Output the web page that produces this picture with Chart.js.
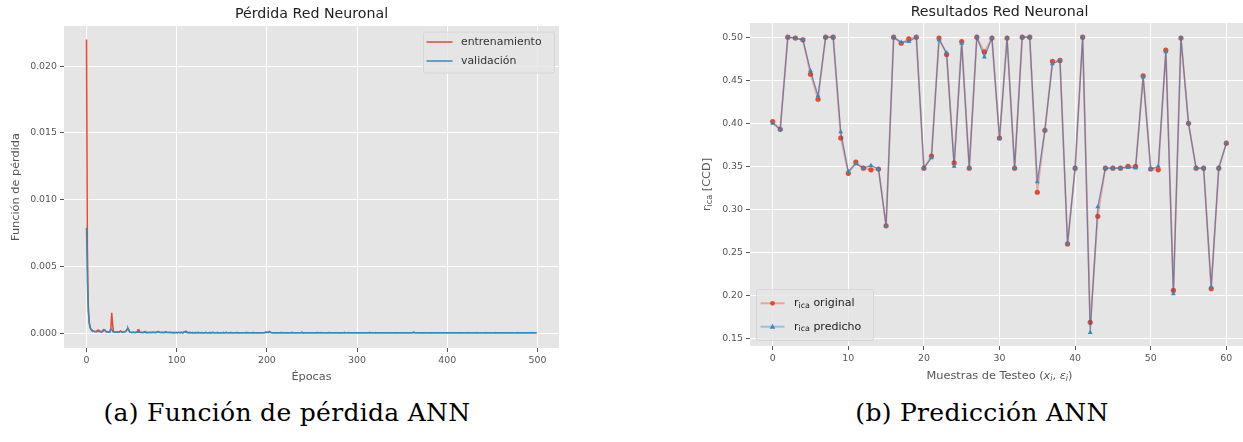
<!DOCTYPE html>
<html>
<head>
<meta charset="utf-8">
<script src="https://cdn.jsdelivr.net/npm/chart.js"></script>
<style>
  body { margin: 0; background: #fff; width: 1243px; height: 442px; overflow: hidden; position: relative; }
  #lossBox { position: absolute; left: 0; top: 0; }
  #predBox { position: absolute; left: 690px; top: 0; }
  .cap { position: absolute; top: 399px; font-family: "DejaVu Serif", serif; font-size: 25px; color: #000;
         letter-spacing: 0.3px; white-space: nowrap; transform: translateX(-50%); line-height: 28px; }
</style>
</head>
<body>
<div id="lossBox"><canvas id="lossChart" width="580" height="395"></canvas></div>
<div id="predBox"><canvas id="predChart" width="570" height="395"></canvas></div>
<div class="cap" style="left:287px">(a) Función de pérdida ANN</div>
<div class="cap" style="left:982px">(b) Predicción ANN</div>

<script>
// loss per epoch (500 epochs)
var lossTrain = [
  0.0220, 0.0062, 0.0021, 0.00085, 0.00045, 0.00028, 0.00020, 0.00016, 0.00014, 0.00012,
  0.00011, 0.00013, 0.00020, 0.00022, 0.00019, 0.00014, 0.00010, 0.00009, 0.00012, 0.00017,
  0.00022, 0.00018, 0.00011, 0.00008, 0.00007, 0.00009, 0.00012, 0.00035, 0.00152, 0.00060,
  0.00012, 0.00007, 0.00006, 0.00008, 0.00010, 0.00007, 0.00009, 0.00013, 0.00016, 0.00011,
  0.00008, 0.00006, 0.00009, 0.00012, 0.00018, 0.00026, 0.00030, 0.00022, 0.00009, 0.00006,
  0.00005, 0.00006, 0.00008, 0.00005, 0.00004, 0.00006, 0.00010, 0.00024, 0.00026, 0.00009,
  0.00005, 0.00004, 0.00006, 0.00005, 0.00009, 0.00013, 0.00006, 0.00004, 0.00005, 0.00004,
  0.00006, 0.00005, 0.00004, 0.00005, 0.00007, 0.00005, 0.00004, 0.00006, 0.00009, 0.00011,
  0.00012, 0.00007, 0.00005, 0.00004, 0.00006, 0.00005, 0.00004, 0.00008, 0.00010, 0.00005,
  0.00004, 0.00005, 0.00004, 0.00006, 0.00004, 0.00003, 0.00005, 0.00004, 0.00003, 0.00004,
  4e-5, 3e-5, 5e-5, 4e-5, 3e-5, 6e-5, 4e-5, 3e-5, 8e-5, 9e-5, 7e-5, 4e-5, 3e-5, 4e-5, 3e-5, 5e-5, 3e-5, 3e-5, 4e-5, 3e-5, 2e-5, 4e-5, 3e-5, 3e-5, 5e-5,
  3e-5, 2e-5, 3e-5, 4e-5, 3e-5, 2e-5, 3e-5, 5e-5, 3e-5, 2e-5, 3e-5, 3e-5, 4e-5, 2e-5, 3e-5, 6e-5, 3e-5, 2e-5, 3e-5, 2e-5, 4e-5, 3e-5, 2e-5, 3e-5, 3e-5,
  2e-5, 3e-5, 4e-5, 2e-5, 3e-5, 5e-5, 3e-5, 2e-5, 2e-5, 3e-5, 4e-5, 2e-5, 3e-5, 2e-5, 2e-5, 3e-5, 2e-5, 4e-5, 3e-5, 2e-5, 2e-5, 3e-5, 2e-5, 2e-5, 3e-5,
  2e-5, 2e-5, 4e-5, 2e-5, 3e-5, 2e-5, 2e-5, 3e-5, 2e-5, 2e-5, 4e-5, 2e-5, 2e-5, 3e-5, 2e-5, 2e-5, 2e-5, 3e-5, 2e-5, 3e-5, 2e-5, 2e-5, 3e-5, 5e-5, 7e-5,
  6e-5, 5e-5, 4e-5, 9e-5, 5e-5, 3e-5, 2e-5, 2e-5, 3e-5, 2e-5, 2e-5, 2e-5, 3e-5, 2e-5, 2e-5, 2e-5, 4e-5, 2e-5, 2e-5, 2e-5, 3e-5, 2e-5, 2e-5, 2e-5, 3e-5,
  2e-5, 2e-5, 2e-5, 4e-5, 2e-5, 2e-5, 3e-5, 2e-5, 2e-5, 2e-5, 2e-5, 3e-5, 2e-5, 2e-5, 5e-5, 2e-5, 2e-5, 2e-5, 3e-5, 2e-5, 2e-5, 2e-5, 2e-5, 3e-5, 2e-5,
  2e-5, 3e-5, 2e-5, 2e-5, 2e-5, 2e-5, 4e-5, 2e-5, 2e-5, 2e-5, 3e-5, 2e-5, 2e-5, 2e-5, 2e-5, 2e-5, 3e-5, 2e-5, 2e-5, 4e-5, 2e-5, 2e-5, 2e-5, 2e-5, 2e-5,
  3e-5, 2e-5, 2e-5, 2e-5, 2e-5, 3e-5, 2e-5, 2e-5, 2e-5, 2e-5, 2e-5, 4e-5, 2e-5, 2e-5, 2e-5, 2e-5, 3e-5, 2e-5, 2e-5, 2e-5, 2e-5, 2e-5, 3e-5, 2e-5, 2e-5,
  2e-5, 2e-5, 2e-5, 3e-5, 2e-5, 2e-5, 2e-5, 2e-5, 2e-5, 3e-5, 2e-5, 2e-5, 2e-5, 2e-5, 4e-5, 2e-5, 2e-5, 2e-5, 2e-5, 2e-5, 2e-5, 3e-5, 2e-5, 2e-5, 2e-5,
  2e-5, 2e-5, 3e-5, 2e-5, 2e-5, 2e-5, 2e-5, 2e-5, 2e-5, 3e-5, 2e-5, 2e-5, 2e-5, 2e-5, 2e-5, 2e-5, 3e-5, 2e-5, 2e-5, 2e-5, 2e-5, 2e-5, 2e-5, 2e-5, 3e-5,
  2e-5, 2e-5, 2e-5, 2e-5, 2e-5, 3e-5, 2e-5, 2e-5, 2e-5, 2e-5, 2e-5, 2e-5, 2e-5, 8e-5, 3e-5, 2e-5, 2e-5, 2e-5, 2e-5, 2e-5, 2e-5, 3e-5, 2e-5, 2e-5, 2e-5,
  2e-5, 2e-5, 2e-5, 2e-5, 2e-5, 2e-5, 3e-5, 2e-5, 2e-5, 2e-5, 2e-5, 2e-5, 2e-5, 2e-5, 2e-5, 3e-5, 2e-5, 2e-5, 2e-5, 2e-5, 2e-5, 2e-5, 2e-5, 2e-5, 2e-5,
  2e-5, 3e-5, 2e-5, 2e-5, 2e-5, 2e-5, 2e-5, 2e-5, 2e-5, 2e-5, 2e-5, 2e-5, 3e-5, 2e-5, 2e-5, 2e-5, 2e-5, 2e-5, 2e-5, 2e-5, 2e-5, 2e-5, 2e-5, 3e-5, 2e-5,
  2e-5, 2e-5, 2e-5, 2e-5, 2e-5, 2e-5, 2e-5, 2e-5, 3e-5, 2e-5, 2e-5, 2e-5, 2e-5, 2e-5, 2e-5, 2e-5, 2e-5, 2e-5, 3e-5, 2e-5, 2e-5, 2e-5, 2e-5, 2e-5, 2e-5,
  2e-5, 2e-5, 2e-5, 2e-5, 3e-5, 2e-5, 2e-5, 2e-5, 2e-5, 2e-5, 2e-5, 2e-5, 2e-5, 2e-5, 2e-5, 3e-5, 2e-5, 2e-5, 2e-5, 2e-5, 2e-5, 2e-5, 2e-5, 2e-5, 2e-5,
  2e-5, 2e-5, 3e-5, 2e-5, 2e-5, 2e-5, 2e-5, 2e-5, 2e-5, 2e-5, 2e-5, 3e-5, 2e-5, 2e-5, 2e-5, 2e-5, 2e-5, 2e-5, 2e-5, 3e-5, 2e-5, 2e-5, 2e-5, 2e-5, 2e-5
];
var lossVal = [
  0.0079, 0.0038, 0.0016, 0.00075, 0.00040, 0.00026, 0.00019, 0.00015, 0.00013, 0.00011,
  0.00010, 0.00010, 0.00011, 0.00013, 0.00012, 0.00010, 0.00009, 0.00012, 0.00020, 0.00026,
  0.00024, 0.00015, 0.00009, 0.00008, 0.00007, 0.00008, 0.00015, 0.00028, 0.00030, 0.00012,
  0.00007, 0.00006, 0.00006, 0.00007, 0.00008, 0.00007, 0.00008, 0.00010, 0.00012, 0.00009,
  0.00007, 0.00006, 0.00008, 0.00010, 0.00016, 0.00028, 0.00036, 0.00020, 0.00008, 0.00006,
  0.00005, 0.00005, 0.00006, 0.00005, 0.00004, 0.00005, 0.00007, 0.00009, 0.00008, 0.00005,
  0.00004, 0.00004, 0.00005, 0.00004, 0.00006, 0.00007, 0.00005, 0.00004, 0.00004, 0.00004,
  0.00005, 0.00004, 0.00004, 0.00005, 0.00006, 0.00004, 0.00004, 0.00005, 0.00007, 0.00008,
  0.00007, 0.00005, 0.00004, 0.00004, 0.00005, 0.00004, 0.00004, 0.00006, 0.00007, 0.00005,
  0.00004, 0.00004, 0.00004, 0.00005, 0.00004, 0.00003, 0.00004, 0.00004, 0.00003, 0.00004,
  4e-5, 3e-5, 4e-5, 4e-5, 3e-5, 5e-5, 4e-5, 3e-5, 6e-5, 9e-5, 14e-5, 10e-5, 5e-5, 4e-5, 3e-5, 4e-5, 3e-5, 3e-5, 4e-5, 3e-5, 3e-5, 4e-5, 3e-5, 3e-5, 4e-5,
  3e-5, 3e-5, 3e-5, 4e-5, 3e-5, 3e-5, 3e-5, 4e-5, 3e-5, 3e-5, 3e-5, 3e-5, 4e-5, 3e-5, 3e-5, 5e-5, 3e-5, 3e-5, 3e-5, 3e-5, 4e-5, 3e-5, 3e-5, 3e-5, 3e-5,
  3e-5, 3e-5, 4e-5, 3e-5, 3e-5, 4e-5, 3e-5, 3e-5, 3e-5, 3e-5, 4e-5, 3e-5, 3e-5, 3e-5, 3e-5, 3e-5, 3e-5, 4e-5, 3e-5, 3e-5, 3e-5, 3e-5, 3e-5, 3e-5, 3e-5,
  3e-5, 3e-5, 4e-5, 3e-5, 3e-5, 3e-5, 3e-5, 3e-5, 3e-5, 3e-5, 4e-5, 3e-5, 3e-5, 3e-5, 3e-5, 3e-5, 3e-5, 3e-5, 3e-5, 3e-5, 3e-5, 3e-5, 3e-5, 4e-5, 5e-5,
  6e-5, 7e-5, 9e-5, 12e-5, 6e-5, 4e-5, 3e-5, 3e-5, 3e-5, 3e-5, 3e-5, 3e-5, 3e-5, 3e-5, 3e-5, 3e-5, 4e-5, 3e-5, 3e-5, 3e-5, 3e-5, 3e-5, 3e-5, 3e-5, 3e-5,
  3e-5, 3e-5, 3e-5, 4e-5, 3e-5, 3e-5, 3e-5, 3e-5, 3e-5, 3e-5, 3e-5, 3e-5, 3e-5, 3e-5, 5e-5, 3e-5, 3e-5, 3e-5, 3e-5, 3e-5, 3e-5, 3e-5, 3e-5, 3e-5, 3e-5,
  3e-5, 3e-5, 3e-5, 3e-5, 3e-5, 3e-5, 4e-5, 3e-5, 3e-5, 3e-5, 3e-5, 3e-5, 3e-5, 3e-5, 3e-5, 3e-5, 3e-5, 3e-5, 3e-5, 4e-5, 3e-5, 3e-5, 3e-5, 3e-5, 3e-5,
  3e-5, 3e-5, 3e-5, 3e-5, 3e-5, 3e-5, 3e-5, 3e-5, 3e-5, 3e-5, 3e-5, 4e-5, 3e-5, 3e-5, 3e-5, 3e-5, 3e-5, 3e-5, 3e-5, 3e-5, 3e-5, 3e-5, 3e-5, 3e-5, 3e-5,
  3e-5, 3e-5, 3e-5, 3e-5, 3e-5, 3e-5, 3e-5, 3e-5, 3e-5, 3e-5, 3e-5, 3e-5, 3e-5, 3e-5, 4e-5, 3e-5, 3e-5, 3e-5, 3e-5, 3e-5, 3e-5, 3e-5, 3e-5, 3e-5, 3e-5,
  3e-5, 3e-5, 3e-5, 3e-5, 3e-5, 3e-5, 3e-5, 3e-5, 3e-5, 3e-5, 3e-5, 3e-5, 3e-5, 3e-5, 3e-5, 3e-5, 3e-5, 3e-5, 3e-5, 3e-5, 3e-5, 3e-5, 3e-5, 3e-5, 3e-5,
  3e-5, 3e-5, 3e-5, 3e-5, 3e-5, 3e-5, 3e-5, 3e-5, 3e-5, 3e-5, 3e-5, 3e-5, 3e-5, 4e-5, 3e-5, 3e-5, 3e-5, 3e-5, 3e-5, 3e-5, 3e-5, 3e-5, 3e-5, 3e-5, 3e-5,
  3e-5, 3e-5, 3e-5, 3e-5, 3e-5, 3e-5, 3e-5, 3e-5, 3e-5, 3e-5, 3e-5, 3e-5, 3e-5, 3e-5, 3e-5, 3e-5, 3e-5, 3e-5, 3e-5, 3e-5, 3e-5, 3e-5, 3e-5, 3e-5, 3e-5,
  3e-5, 3e-5, 3e-5, 3e-5, 3e-5, 3e-5, 3e-5, 3e-5, 3e-5, 3e-5, 3e-5, 3e-5, 3e-5, 3e-5, 3e-5, 3e-5, 3e-5, 3e-5, 3e-5, 3e-5, 3e-5, 3e-5, 3e-5, 3e-5, 3e-5,
  3e-5, 3e-5, 3e-5, 3e-5, 3e-5, 3e-5, 3e-5, 3e-5, 3e-5, 3e-5, 3e-5, 3e-5, 3e-5, 3e-5, 3e-5, 3e-5, 3e-5, 3e-5, 3e-5, 3e-5, 3e-5, 3e-5, 3e-5, 3e-5, 3e-5,
  3e-5, 3e-5, 3e-5, 3e-5, 3e-5, 3e-5, 3e-5, 3e-5, 3e-5, 3e-5, 3e-5, 3e-5, 3e-5, 3e-5, 3e-5, 3e-5, 3e-5, 3e-5, 3e-5, 3e-5, 3e-5, 3e-5, 3e-5, 3e-5, 3e-5,
  3e-5, 3e-5, 3e-5, 4e-5, 3e-5, 3e-5, 3e-5, 3e-5, 3e-5, 3e-5, 3e-5, 3e-5, 3e-5, 3e-5, 3e-5, 3e-5, 3e-5, 3e-5, 3e-5, 3e-5, 3e-5, 3e-5, 3e-5, 3e-5, 3e-5
];
var lossXTicks = [0, 100, 200, 300, 400, 500];
var lossYTicks = [0, 0.005, 0.010, 0.015, 0.020];

// r_ica for the 61 test samples
var samples = [0,1,2,3,4,5,6,7,8,9,10,11,12,13,14,15,16,17,18,19,20,21,22,23,24,25,26,27,28,29,30,
               31,32,33,34,35,36,37,38,39,40,41,42,43,44,45,46,47,48,49,50,51,52,53,54,55,56,57,58,59,60];
var ricaOriginal = [
  0.402, 0.393, 0.500, 0.499, 0.497, 0.457, 0.428, 0.500, 0.500, 0.383,
  0.342, 0.355, 0.348, 0.346, 0.347, 0.281, 0.500, 0.493, 0.498, 0.500,
  0.348, 0.362, 0.499, 0.480, 0.354, 0.495, 0.348, 0.500, 0.483, 0.499,
  0.383, 0.499, 0.348, 0.500, 0.500, 0.320, 0.392, 0.472, 0.473, 0.260,
  0.348, 0.500, 0.169, 0.292, 0.348, 0.348, 0.348, 0.350, 0.350, 0.455,
  0.347, 0.346, 0.485, 0.206, 0.499, 0.400, 0.348, 0.348, 0.208, 0.348, 0.377
];
var ricaPredicho = [
  0.400, 0.393, 0.500, 0.499, 0.497, 0.461, 0.432, 0.500, 0.500, 0.390,
  0.344, 0.353, 0.348, 0.351, 0.347, 0.281, 0.500, 0.494, 0.495, 0.500,
  0.348, 0.360, 0.497, 0.482, 0.350, 0.493, 0.348, 0.500, 0.477, 0.499,
  0.382, 0.499, 0.348, 0.500, 0.500, 0.332, 0.392, 0.469, 0.473, 0.260,
  0.348, 0.500, 0.157, 0.303, 0.348, 0.348, 0.348, 0.349, 0.348, 0.454,
  0.347, 0.350, 0.483, 0.202, 0.499, 0.400, 0.348, 0.348, 0.210, 0.348, 0.377
];
var predXTicks = [0, 10, 20, 30, 40, 50, 60];
var predYTicks = [0.15, 0.20, 0.25, 0.30, 0.35, 0.40, 0.45, 0.50];

var RED = '#E24A33', BLUE = '#348ABD', TICK = '#555555';
Chart.defaults.font.family = "'DejaVu Sans', sans-serif";
Chart.defaults.animation = false;

// grey panel behind the grid
var panelBg = {
  id: 'panelBg',
  beforeDraw: function (chart) {
    var a = chart.chartArea, ctx = chart.ctx;
    ctx.save();
    ctx.fillStyle = '#E5E5E5';
    ctx.fillRect(a.left, a.top, a.right - a.left, a.bottom - a.top);
    ctx.restore();
  }
};

// draws a row of text pieces (for subscripts / italics), centred on x
function richText(ctx, parts, x, y) {
  var total = 0;
  parts.forEach(function (p) { ctx.font = p.font; total += ctx.measureText(p.t).width; });
  var cx = x - total / 2;
  ctx.textBaseline = 'middle';
  ctx.textAlign = 'left';
  parts.forEach(function (p) {
    ctx.font = p.font;
    ctx.fillText(p.t, cx, y + (p.dy || 0));
    cx += ctx.measureText(p.t).width;
  });
}
function richLeft(ctx, parts, x, y) {
  var w = 0;
  parts.forEach(function (p) { ctx.font = p.font; w += ctx.measureText(p.t).width; });
  richText(ctx, parts, x + w / 2, y);
}
// title centred over the plot area (not the whole canvas)
function drawTitle(chart, text, y) {
  var a = chart.chartArea, ctx = chart.ctx;
  ctx.save();
  ctx.fillStyle = '#222';
  richText(ctx, [{ t: text, font: '14.2px "DejaVu Sans"' }], (a.left + a.right) / 2, y);
  ctx.restore();
}

function scaleOpts(min, max, ticks, digits) {
  return {
    type: 'linear', min: min, max: max,
    afterBuildTicks: function (s) { s.ticks = ticks.map(function (v) { return { value: v }; }); },
    ticks: { color: TICK, font: { size: 9.4 }, padding: 3,
             callback: function (v) { return Number(v).toFixed(digits); } },
    grid: { color: '#FFFFFF', lineWidth: 1, tickColor: TICK, tickLength: 4, tickWidth: 1 },
    border: { display: false }
  };
}

// ---------- left: loss curves ----------
var lossX = scaleOpts(-24.95, 523.95, lossXTicks, 0);
lossX.afterFit = function (s) { s.height = 47; };
var lossY = scaleOpts(-0.00112, 0.02302, lossYTicks, 3);
lossY.afterFit = function (s) { s.width = 64; };

var lossDecor = {
  id: 'lossDecor',
  afterDraw: function (chart) {
    var ctx = chart.ctx, a = chart.chartArea;
    drawTitle(chart, 'Pérdida Red Neuronal', 14);
    ctx.save();
    ctx.fillStyle = TICK;
    richText(ctx, [{ t: 'Épocas', font: '11.3px "DejaVu Sans"' }], (a.left + a.right) / 2, 377);
    ctx.translate(16, (a.top + a.bottom) / 2);
    ctx.rotate(-Math.PI / 2);
    richText(ctx, [{ t: 'Función de pérdida', font: '11.3px "DejaVu Sans"' }], 0, 0);
    ctx.restore();

    // legend, upper right
    var bx = a.right - 136, by = a.top + 5.5, bw = 131, bh = 41;
    ctx.save();
    ctx.fillStyle = 'rgba(229,229,229,0.8)';
    ctx.strokeStyle = '#D6D6D6';
    ctx.lineWidth = 1;
    ctx.beginPath();
    ctx.roundRect(bx + 0.5, by + 0.5, bw, bh, 2);
    ctx.fill(); ctx.stroke();
    var items = [[chart.data.datasets[0].label, RED, by + 10.5], [chart.data.datasets[1].label, BLUE, by + 29.5]];
    items.forEach(function (it) {
      ctx.strokeStyle = it[1]; ctx.lineWidth = 1.5;
      ctx.beginPath(); ctx.moveTo(bx + 3.5, it[2]); ctx.lineTo(bx + 29.5, it[2]); ctx.stroke();
      ctx.fillStyle = '#333';
      richLeft(ctx, [{ t: it[0], font: '10.9px "DejaVu Sans"' }], bx + 38, it[2]);
    });
    ctx.restore();
  }
};

new Chart(document.getElementById('lossChart'), {
  type: 'line',
  data: {
    datasets: [
      { label: 'entrenamiento', data: lossTrain.map(function (v, i) { return { x: i, y: v }; }),
        borderColor: RED, borderWidth: 1.5, pointRadius: 0, tension: 0, order: 1 },
      { label: 'validación', data: lossVal.map(function (v, i) { return { x: i, y: v }; }),
        borderColor: BLUE, borderWidth: 1.5, pointRadius: 0, tension: 0, order: 0 }
    ]
  },
  options: {
    responsive: false,
    layout: { padding: { left: 0, right: 21, top: 26, bottom: 0 } },
    plugins: { legend: { display: false }, tooltip: { enabled: false }, title: { display: false } },
    scales: { x: lossX, y: lossY }
  },
  plugins: [panelBg, lossDecor]
});

// ---------- right: original vs predicted ----------
var predX = scaleOpts(-3, 63, predXTicks, 0);
predX.afterFit = function (s) { s.height = 49; };
var predY = scaleOpts(0.1415, 0.5165, predYTicks, 2);
predY.afterFit = function (s) { s.width = 60; };

function ricaLabel(rest, size) {
  return [{ t: 'r', font: size + 'px "DejaVu Sans"' },
          { t: 'ica', font: (size * 0.72).toFixed(1) + 'px "DejaVu Sans"', dy: 2.5 },
          { t: rest, font: size + 'px "DejaVu Sans"' }];
}

var predDecor = {
  id: 'predDecor',
  afterDraw: function (chart) {
    var ctx = chart.ctx, a = chart.chartArea;
    drawTitle(chart, 'Resultados Red Neuronal', 12);
    ctx.save();
    ctx.fillStyle = TICK;
    richText(ctx, [
      { t: 'Muestras de Testeo (', font: '11.3px "DejaVu Sans"' },
      { t: 'x', font: 'italic 11.3px "DejaVu Sans"' },
      { t: 'i', font: 'italic 8px "DejaVu Sans"', dy: 2.5 },
      { t: ', ', font: '11.3px "DejaVu Sans"' },
      { t: 'ε', font: 'italic 11.3px "DejaVu Sans"' },
      { t: 'i', font: 'italic 8px "DejaVu Sans"', dy: 2.5 },
      { t: ')', font: '11.3px "DejaVu Sans"' }
    ], (a.left + a.right) / 2, 376);
    ctx.translate(17, (a.top + a.bottom) / 2);
    ctx.rotate(-Math.PI / 2);
    richText(ctx, ricaLabel(' [CCD]', 11.3), 0, 0);
    ctx.restore();

    // legend, lower left
    var bx = a.left + 6, bw = 117, bh = 51, by = a.bottom - 6 - bh;
    ctx.save();
    ctx.fillStyle = 'rgba(229,229,229,0.8)';
    ctx.strokeStyle = '#D6D6D6';
    ctx.lineWidth = 1;
    ctx.beginPath();
    ctx.roundRect(bx + 0.5, by + 0.5, bw, bh, 2);
    ctx.fill(); ctx.stroke();
    var items = [[' original', 'rgba(226,74,51,0.4)', RED, 'circle', by + 14.3],
                 [' predicho', 'rgba(52,138,189,0.4)', BLUE, 'triangle', by + 37.7]];
    items.forEach(function (it) {
      ctx.strokeStyle = it[1]; ctx.lineWidth = 2;
      ctx.beginPath(); ctx.moveTo(bx + 4.5, it[4]); ctx.lineTo(bx + 28.5, it[4]); ctx.stroke();
      ctx.fillStyle = it[2];
      ctx.beginPath();
      if (it[3] === 'circle') { ctx.arc(bx + 16.5, it[4], 2.4, 0, Math.PI * 2); }
      else { ctx.moveTo(bx + 16.5, it[4] - 3); ctx.lineTo(bx + 19.2, it[4] + 2); ctx.lineTo(bx + 13.8, it[4] + 2); ctx.closePath(); }
      ctx.fill();
      ctx.fillStyle = '#222';
      richLeft(ctx, ricaLabel(it[0], 11), bx + 38, it[4]);
    });
    ctx.restore();
  }
};

new Chart(document.getElementById('predChart'), {
  type: 'line',
  data: {
    datasets: [
      { label: 'r_ica original', data: ricaOriginal.map(function (v, i) { return { x: samples[i], y: v }; }),
        borderColor: 'rgba(226,74,51,0.38)', borderWidth: 1.8, tension: 0,
        pointStyle: 'circle', pointRadius: 2.6, pointBorderWidth: 0,
        pointBackgroundColor: RED, order: 1 },
      { label: 'r_ica predicho', data: ricaPredicho.map(function (v, i) { return { x: samples[i], y: v }; }),
        borderColor: 'rgba(60,90,150,0.62)', borderWidth: 1.3, tension: 0,
        pointStyle: 'triangle', pointRadius: 2.8, pointBorderWidth: 0,
        pointBackgroundColor: BLUE, order: 0 }
    ]
  },
  options: {
    responsive: false,
    layout: { padding: { left: 0, right: 11, top: 23, bottom: 0 } },
    plugins: { legend: { display: false }, tooltip: { enabled: false }, title: { display: false } },
    scales: { x: predX, y: predY }
  },
  plugins: [panelBg, predDecor]
});
</script>
</body>
</html>
